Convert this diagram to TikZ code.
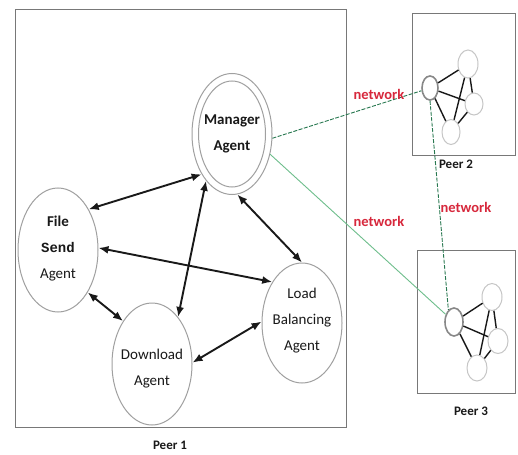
\documentclass[tikz,border=0pt]{standalone}
\usepackage{fontspec}
\setmainfont{Carlito}
\newfontfamily\monofam{Liberation Mono}
\usetikzlibrary{shapes.geometric,arrows.meta}
\definecolor{ringgray}{RGB}{160,160,160}
\definecolor{boxgray}{RGB}{120,120,120}
\definecolor{netred}{RGB}{215,40,60}
\definecolor{netgreen}{RGB}{40,120,80}
\definecolor{lightgreen}{RGB}{110,190,140}
\definecolor{ink}{RGB}{25,25,25}
\begin{document}
\begin{tikzpicture}[x=1pt,y=-1pt,
  agent/.style={ellipse, draw=ringgray, line width=1pt, inner sep=0pt},
  lbl/.style={align=center, text=ink, font=\fontsize{15}{26}\selectfont},
  link/.style={draw=ink, line width=1.9pt, {Latex[length=10pt,width=8pt]}-{Latex[length=10pt,width=8pt]}},
  peerbox/.style={draw=boxgray, line width=0.9pt},
  peername/.style={text=ink, font=\fontsize{13}{15}\selectfont\bfseries},
  nettag/.style={text=netred, font=\fontsize{14.5}{16}\selectfont\bfseries},
  hub/.style={ellipse, draw=ringgray!85!black, line width=1.6pt, inner sep=0pt},
  leaf/.style={ellipse, draw=ringgray!60, line width=1pt, inner sep=0pt},
  mesh/.style={draw=ink, line width=1.4pt},
  wan/.style={draw=netgreen, line width=0.9pt, dash pattern=on 4pt off 1.5pt},
]
\useasboundingbox (0,0) rectangle (518,454);
\fill[white] (0,0) rectangle (518,454);

% ---- Peer 1 ----
\draw[peerbox] (15,9) rectangle (346,427);
\node[peername] (peer1) at (170,445) {Peer 1};

\node[agent, minimum width=80pt, minimum height=121pt] (mgr) at (232,134) {};
\node[agent, minimum width=67pt, minimum height=106pt] (mgrin) at (232,134) {};
\node[lbl, font=\fontsize{15}{26}\selectfont\bfseries] (mgrtxt) at (232,134) {Manager\\Agent};

\node[agent, minimum width=80pt, minimum height=124pt] (fs) at (58,250) {};
\node[lbl] (fstxt) at (58,249) {{\bfseries File}\\{\monofam\fontsize{14}{26}\selectfont\bfseries Send}\\Agent};

\node[agent, minimum width=80pt, minimum height=122pt] (dl) at (152,364) {};
\node[lbl] (dltxt) at (152,369) {Download\\Agent};

\node[agent, minimum width=80pt, minimum height=120pt] (lb) at (302,323) {};
\node[lbl] (lbtxt) at (302,321) {Load\\Balancing\\Agent};

\draw[link] (mgr.233) -- (fs.53);
\draw[link] (mgr.241) -- (dl.61);
\draw[link] (mgr.275) -- (lb.90);
\draw[link] (fs.3) -- (lb.126);
\draw[link] (fs.305) -- (dl.124);
\draw[link] (dl.2) -- (lb.178);

% ---- Peer 2 ----
\draw[peerbox] (412,13) rectangle (515,155);
\node[peername] (peer2) at (456,164) {Peer 2};
\node[hub, minimum width=16pt, minimum height=24pt] (p2a) at (430,88) {};
\node[leaf, minimum width=20pt, minimum height=28pt] (p2b) at (468,64) {};
\node[leaf, minimum width=18pt, minimum height=22pt] (p2c) at (474,104) {};
\node[leaf, minimum width=18pt, minimum height=25pt] (p2d) at (451,132) {};
\draw[mesh] (p2a) -- (p2b);
\draw[mesh] (p2a) -- (p2c);
\draw[mesh] (p2a) -- (p2d);
\draw[mesh] (p2b) -- (p2d);
\draw[mesh] (p2b) -- (p2c);
\draw[mesh] (p2c) -- (p2d);

% ---- Peer 3 ----
\draw[peerbox] (417,250) rectangle (515,393);
\node[peername] (peer3) at (471,411) {Peer 3};
\node[hub, minimum width=18pt, minimum height=28pt] (p3a) at (454,322) {};
\node[leaf, minimum width=20pt, minimum height=27pt] (p3b) at (492,297) {};
\node[leaf, minimum width=20pt, minimum height=25pt] (p3c) at (498,341) {};
\node[leaf, minimum width=20pt, minimum height=26pt] (p3d) at (477,368) {};
\draw[mesh] (p3a) -- (p3b);
\draw[mesh] (p3a) -- (p3c);
\draw[mesh] (p3a) -- (p3d);
\draw[mesh] (p3b) -- (p3d);
\draw[mesh] (p3b) -- (p3c);
\draw[mesh] (p3c) -- (p3d);

% ---- network links ----
\draw[wan] (mgr.-6) -- (p2a);
\draw[lightgreen, line width=0.9pt] (mgr.-28) -- (p3a);
\draw[wan] (p2a.south) -- (p3a.115);
\node[nettag] (net1) at (379,94) {network};
\node[nettag] (net2) at (379,221) {network};
\node[nettag] (net3) at (466,207) {network};
\end{tikzpicture}
\end{document}
